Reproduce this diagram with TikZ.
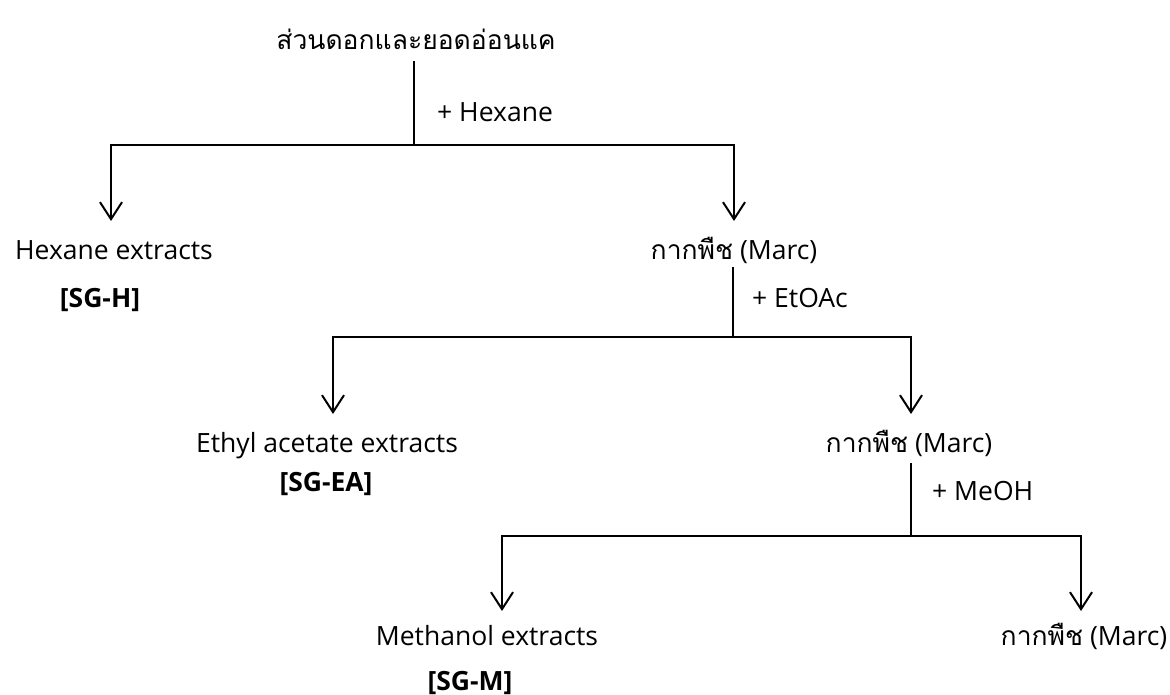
\documentclass[tikz,border=0pt]{standalone}
\usepackage{fontspec}
\setmainfont{Open Sans}
\newfontfamily\thai[Script=Thai]{Loma}
\usetikzlibrary{arrows.meta}
\tikzset{
  lbl/.style={inner sep=0pt, anchor=base, font=\fontsize{26.5}{30}\selectfont},
  tag/.style={inner sep=0pt, anchor=base, font=\fontsize{26.5}{30}\selectfont\bfseries},
  ln/.style={line width=2pt},
  arr/.style={line width=2pt, -{Straight Barb[length=17pt,width=22pt,line width=2pt]}}
}
\begin{document}
\begin{tikzpicture}[x=1pt,y=-1pt]
\useasboundingbox[fill=white] (0,0) rectangle (1170,695);
% texts
\node[lbl] (root) at (416,50) {\thai ส่วนดอกและยอดอ่อนแค};
\node[lbl, anchor=base west] (s1) at (437,122) {+ Hexane};
\node[lbl] (hex) at (114,259) {Hexane extracts};
\node[tag] (sgh) at (100,307) {[SG-H]};
\node[lbl] (m1) at (734,259) {{\thai กากพืช} (Marc)};
\node[lbl, anchor=base west] (s2) at (752,307) {+ EtOAc};
\node[lbl] (ea) at (327,452) {Ethyl acetate extracts};
\node[tag] (sgea) at (326,491) {[SG-EA]};
\node[lbl] (m2) at (909,452) {{\thai กากพืช} (Marc)};
\node[lbl, anchor=base west] (s3) at (932,500) {+ MeOH};
\node[lbl] (me) at (487,645) {Methanol extracts};
\node[tag] (sgm) at (470,690) {[SG-M]};
\node[lbl] (m3) at (1084,645) {{\thai กากพืช} (Marc)};
% connector points
\coordinate (a1) at (414,61);  \coordinate (j1) at (414,145);
\coordinate (t1L) at (111,221); \coordinate (t1R) at (734,221);
\coordinate (a2) at (733,267); \coordinate (j2) at (733,337);
\coordinate (t2L) at (333,414); \coordinate (t2R) at (911,414);
\coordinate (a3) at (911,463); \coordinate (j3) at (911,536);
\coordinate (t3L) at (502,611); \coordinate (t3R) at (1081,611);
% connectors
\draw[ln] (a1) -- (j1);
\draw[arr] (j1) -| (t1L);
\draw[arr] (j1) -| (t1R);
\draw[ln] (a2) -- (j2);
\draw[arr] (j2) -| (t2L);
\draw[arr] (j2) -| (t2R);
\draw[ln] (a3) -- (j3);
\draw[arr] (j3) -| (t3L);
\draw[arr] (j3) -| (t3R);
\end{tikzpicture}
\end{document}
